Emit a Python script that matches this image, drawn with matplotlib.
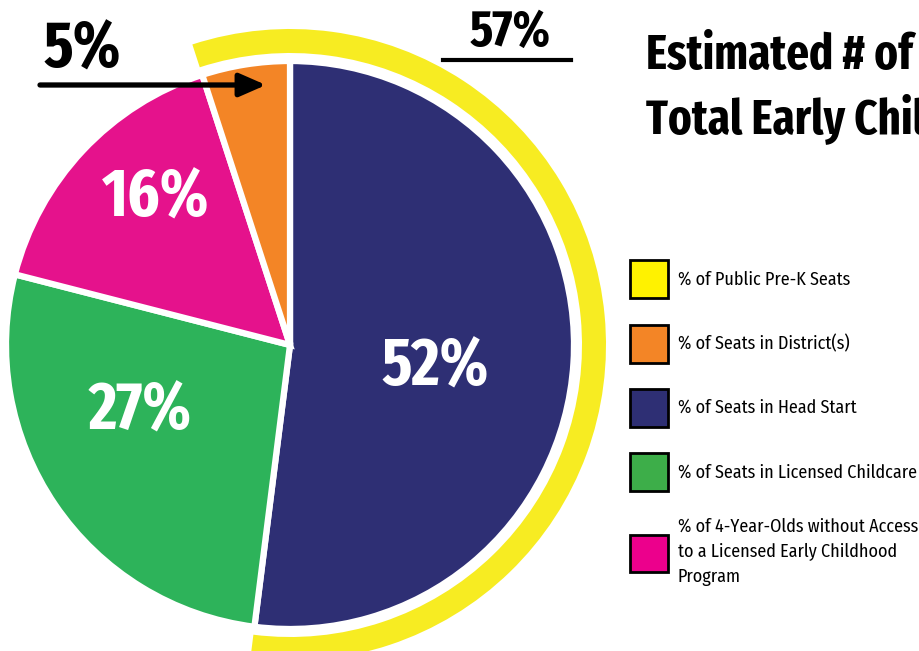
import matplotlib.pyplot as plt
from matplotlib.lines import Line2D
from matplotlib.patches import Patch

# slice shares, drawn clockwise from 12 o'clock
labels = ['% of Seats in Head Start', '% of Seats in Licensed Childcare',
          '% of 4-Year-Olds without Access\nto a Licensed Early Childhood\nProgram',
          '% of Seats in District(s)']
values = [52, 27, 16, 5]
colors = ['#2E2F74', '#2DB35A', '#E5128C', '#F38526']

public_prek = values[0] + values[3]   # 57
ring_color = '#F7EC22'

legend_labels = ['% of Public Pre-K Seats', '% of Seats in District(s)',
                 '% of Seats in Head Start', '% of Seats in Licensed Childcare',
                 '% of 4-Year-Olds without Access\nto a Licensed Early Childhood\nProgram']
legend_colors = ['#FFF200', '#F38526', '#2E2F74', '#3DAE49', '#EC008C']

BOLD = ['Fira Sans Extra Condensed', 'IBM Plex Sans Condensed', 'DejaVu Sans']
REG = ['Fira Sans Condensed', 'IBM Plex Sans Condensed', 'DejaVu Sans']

fig = plt.figure(figsize=(9.19, 6.51), dpi=100)
ax = fig.add_axes([0, 0, 1, 1])

# pixel-like coords, y up
cx, cy = 290, 651 - 345
ax.pie(values, colors=colors, startangle=90, counterclock=False,
       radius=284, center=(cx, cy), frame=True,
       wedgeprops=dict(edgecolor='white', linewidth=4.5))

# yellow ring around the public pre-k slices
ax.pie([public_prek, 100 - public_prek], colors=[ring_color, 'none'],
       startangle=90 + values[3] * 3.6, counterclock=False,
       radius=316, center=(cx, cy), frame=True,
       wedgeprops=dict(width=24, edgecolor='none'))

ax.set_xlim(0, 919)
ax.set_ylim(0, 651)
ax.set_aspect('equal')
ax.axis('off')

# percentages inside the pie
big = dict(color='white', fontsize=48, fontweight='bold', family=BOLD,
           ha='center', va='center')
ax.text(435, 651 - 368, f'{values[0]}%', **big)
ax.text(140, 651 - 412, f'{values[1]}%', **big)
ax.text(156, 651 - 199, f'{values[2]}%', **big)

# 5% callout with arrow
ax.text(82, 651 - 50, f'{values[3]}%', color='black', fontsize=47,
        fontweight='bold', family=BOLD, ha='center', va='center')
ax.annotate('', xy=(266, 651 - 85), xytext=(40, 651 - 85),
            arrowprops=dict(arrowstyle='-|>,head_length=1.6,head_width=0.7',
                            color='black', lw=3.8, shrinkA=0, shrinkB=0))

# 57% with underline
ax.text(510, 651 - 33, f'{public_prek}%', color='black', fontsize=37,
        fontweight='bold', family=BOLD, ha='center', va='center')
ax.add_line(Line2D([443, 571], [651 - 60, 651 - 60], color='black', lw=3))

# title (runs off the right edge, as in the original)
ax.text(646, 651 - 56, 'Estimated # of', fontsize=35, fontweight='bold',
        family=BOLD, ha='left', va='center')
ax.text(646, 651 - 119, 'Total Early Childhood', fontsize=35, fontweight='bold',
        family=BOLD, ha='left', va='center')

# legend
handles = [Patch(facecolor=c, edgecolor='black', linewidth=2) for c in legend_colors]
leg = fig.legend(handles, legend_labels, loc='upper left', bbox_to_anchor=(0.6775, 0.611),
                 frameon=False, prop=dict(family=REG, size=13),
                 handlelength=2.1, handleheight=2.86, handletextpad=0.55,
                 labelspacing=1.45, borderaxespad=0)
for t in leg.get_texts():
    t.set_linespacing(1.55)

fig.savefig('out.png', dpi=100)
